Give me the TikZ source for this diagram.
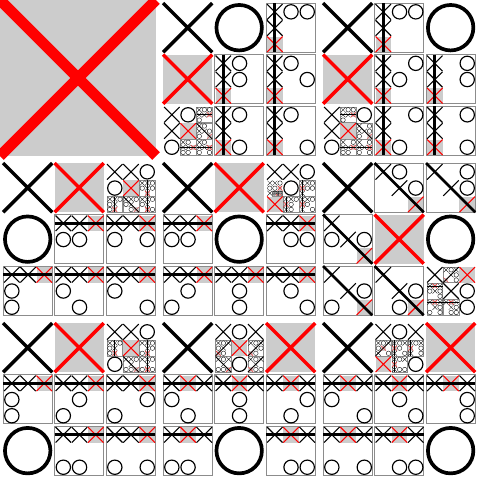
\documentclass[tikz,border=0pt]{standalone}
\definecolor{MoveGray}{rgb}{0.8,0.8,0.8}
\definecolor{FrameGray}{rgb}{0.55,0.55,0.55}

\begin{document}
\begin{tikzpicture}[x=1pt,y=-1pt]
\useasboundingbox (0,0) rectangle (480,480);
\fill[white] (0,0) rectangle (480,480);
% cells 0..8, value 0 empty, 1 X, 2 O
\def\tttget#1{\csname ttt#1\endcsname}
\def\tttcells#1{#1{0}#1{1}#1{2}#1{3}#1{4}#1{5}#1{6}#1{7}#1{8}}
\def\tttclear#1{\expandafter\def\csname ttt#1\endcsname{0}}
\tttcells\tttclear
\newif\iftttwin
\def\tttcheckline#1#2#3{%
  \ifnum\tttget{#1}=\tttp\relax
    \ifnum\tttget{#2}=\tttp\relax
      \ifnum\tttget{#3}=\tttp\relax
        \tttwintrue\def\tttwinline{#1#2#3}%
      \fi
    \fi
  \fi}
\def\tttcheckall{\tttwinfalse
  \tttcheckline012\tttcheckline345\tttcheckline678%
  \tttcheckline036\tttcheckline147\tttcheckline258%
  \tttcheckline048\tttcheckline246}
% winning cell for player #1
\def\tttfindwin#1{\def\tttp{#1}\def\tttres{-1}\tttcells\ttttrywin}
\def\ttttrywin#1{\ifnum\tttres<0 \ifnum\tttget{#1}=0 \ttttestcell{#1}\fi\fi}
\def\ttttestcell#1{\begingroup
  \expandafter\edef\csname ttt#1\endcsname{\tttp}%
  \tttcheckall
  \iftttwin\gdef\tttgres{#1}\else\gdef\tttgres{-1}\fi
  \endgroup\let\tttres\tttgres}
% fork for X
\def\tttfindfork{\def\tttres{-1}\tttcells\ttttryfork}
\def\ttttryfork#1{\ifnum\tttres<0 \ifnum\tttget{#1}=0 \ttttestfork{#1}\fi\fi}
\def\ttttestfork#1{\begingroup
  \expandafter\def\csname ttt#1\endcsname{1}%
  \def\tttp{1}\def\tttcnt{0}%
  \tttcells\tttcountwin
  \ifnum\tttcnt>1 \gdef\tttgres{#1}\else\gdef\tttgres{-1}\fi
  \endgroup\let\tttres\tttgres}
\def\tttcountwin#1{\ifnum\tttget{#1}=0 \ttttestcell{#1}%
  \ifnum\tttres<0 \else\edef\tttcnt{\the\numexpr\tttcnt+1}\fi\fi}
\def\tttfirstempty{\def\tttres{-1}\tttcells\ttttryempty}
\def\ttttryempty#1{\ifnum\tttres<0 \ifnum\tttget{#1}=0 \def\tttres{#1}\fi\fi}
\def\tttcountempty{\def\tttnempty{0}\tttcells\tttcounte}
\def\tttcounte#1{\ifnum\tttget{#1}=0 \edef\tttnempty{\the\numexpr\tttnempty+1}\fi}
% second X move, by the first O
\def\tttfindo#1{\ifnum\tttget{#1}=2 \def\tttopos{#1}\fi}
\def\tttthird{\tttcells\tttfindo
  \ifcase\tttopos\relax\or\def\tttres{3}\or\def\tttres{3}\or\def\tttres{1}\or\def\tttres{1}%
  \or\def\tttres{4}\or\def\tttres{1}\or\def\tttres{2}\or\def\tttres{2}\fi}
\def\tttchoose{\tttcountempty
  \ifnum\tttnempty=9 \def\tttres{0}%
  \else\ifnum\tttnempty=7 \tttthird
  \else
    \tttfindwin{1}%
    \ifnum\tttres<0 \tttfindwin{2}\fi
    \ifnum\tttres<0 \tttfindfork\fi
    \ifnum\tttres<0 \tttfirstempty\fi
  \fi\fi}
% marks
\def\tttcross#1{\draw[#1,line width=0.07*\tttbw] (\tttcx,\tttcy) -- ++(\tttbw,\tttbw)
  (\tttcx,\tttcy) ++(\tttbw,0) -- ++(-\tttbw,\tttbw);}
\def\tttrowline#1{\pgfmathsetmacro\tttly{\tttby+\tttboff+#1*\tttbs+0.5*\tttbw}%
  \draw[line width=0.055*\tttbL] (\tttbx,\tttly) -- ++(\tttbL,0);}
\def\tttcolline#1{\pgfmathsetmacro\tttlx{\tttbx+\tttboff+#1*\tttbs+0.5*\tttbw}%
  \draw[line width=0.055*\tttbL] (\tttlx,\tttby) -- ++(0,\tttbL);}
\expandafter\def\csname tttln012\endcsname{\tttrowline0}
\expandafter\def\csname tttln345\endcsname{\tttrowline1}
\expandafter\def\csname tttln678\endcsname{\tttrowline2}
\expandafter\def\csname tttln036\endcsname{\tttcolline0}
\expandafter\def\csname tttln147\endcsname{\tttcolline1}
\expandafter\def\csname tttln258\endcsname{\tttcolline2}
\expandafter\def\csname tttln048\endcsname{\draw[line width=0.055*\tttbL] (\tttbx,\tttby) -- ++(\tttbL,\tttbL);}
\expandafter\def\csname tttln246\endcsname{\draw[line width=0.055*\tttbL] (\tttbx,\tttby) ++(\tttbL,0) -- ++(-\tttbL,\tttbL);}
\def\tttsub#1{%
  \pgfmathsetmacro\tttnoff{0.02*\tttbw}%
  \pgfmathsetmacro\tttns{0.33*\tttbw}%
  \pgfmathsetmacro\tttnw{0.315*\tttbw}%
  \edef\tttnext{\noexpand\tttboard{\tttcx}{\tttcy}{\tttnoff}{\tttns}{\tttnw}{\tttbw}}%
  \begingroup
    \expandafter\def\csname ttt#1\endcsname{2}%
    \tttnext
  \endgroup}
\def\tttdrawcell#1{%
  \edef\tttcc{\ifcase#1 0\or1\or2\or0\or1\or2\or0\or1\or2\fi}%
  \edef\tttcr{\ifcase#1 0\or0\or0\or1\or1\or1\or2\or2\or2\fi}%
  \pgfmathsetmacro\tttcx{\tttbx+\tttboff+\tttcc*\tttbs}%
  \pgfmathsetmacro\tttcy{\tttby+\tttboff+\tttcr*\tttbs}%
  \ifnum#1=\tttmv\relax
    \fill[MoveGray] (\tttcx,\tttcy) rectangle ++(\tttbw,\tttbw);
    \tttcross{red}%
  \else\ifnum\tttget{#1}=1
    \tttcross{black}%
  \else\ifnum\tttget{#1}=2
    \draw[line width=0.075*\tttbw] (\tttcx,\tttcy) ++(0.5*\tttbw,0.5*\tttbw) circle[radius=0.4625*\tttbw pt];
  \else\ifnum\tttend=0
    \tttsub{#1}%
  \fi\fi\fi\fi}
% board: x, y, offset, step, cell size, side
\def\tttboard#1#2#3#4#5#6{%
  \def\tttbx{#1}\def\tttby{#2}\def\tttboff{#3}%
  \def\tttbs{#4}\def\tttbw{#5}\def\tttbL{#6}%
  \tttchoose\let\tttmv\tttres
  \expandafter\def\csname ttt\tttmv\endcsname{1}%
  \def\tttp{1}\tttcheckall
  \tttcountempty
  \def\tttend{0}%
  \iftttwin\def\tttend{1}\fi
  \ifnum\tttnempty=0 \def\tttend{1}\fi
  \ifnum\tttend=1
    \draw[FrameGray,line width=0.02*#6] (#1,#2) rectangle ++(#6,#6);
  \fi
  \tttcells\tttdrawcell
  \iftttwin\csname tttln\tttwinline\endcsname\fi}

\tttboard{0}{0}{0}{160}{156}{480}
\end{tikzpicture}
\end{document}
